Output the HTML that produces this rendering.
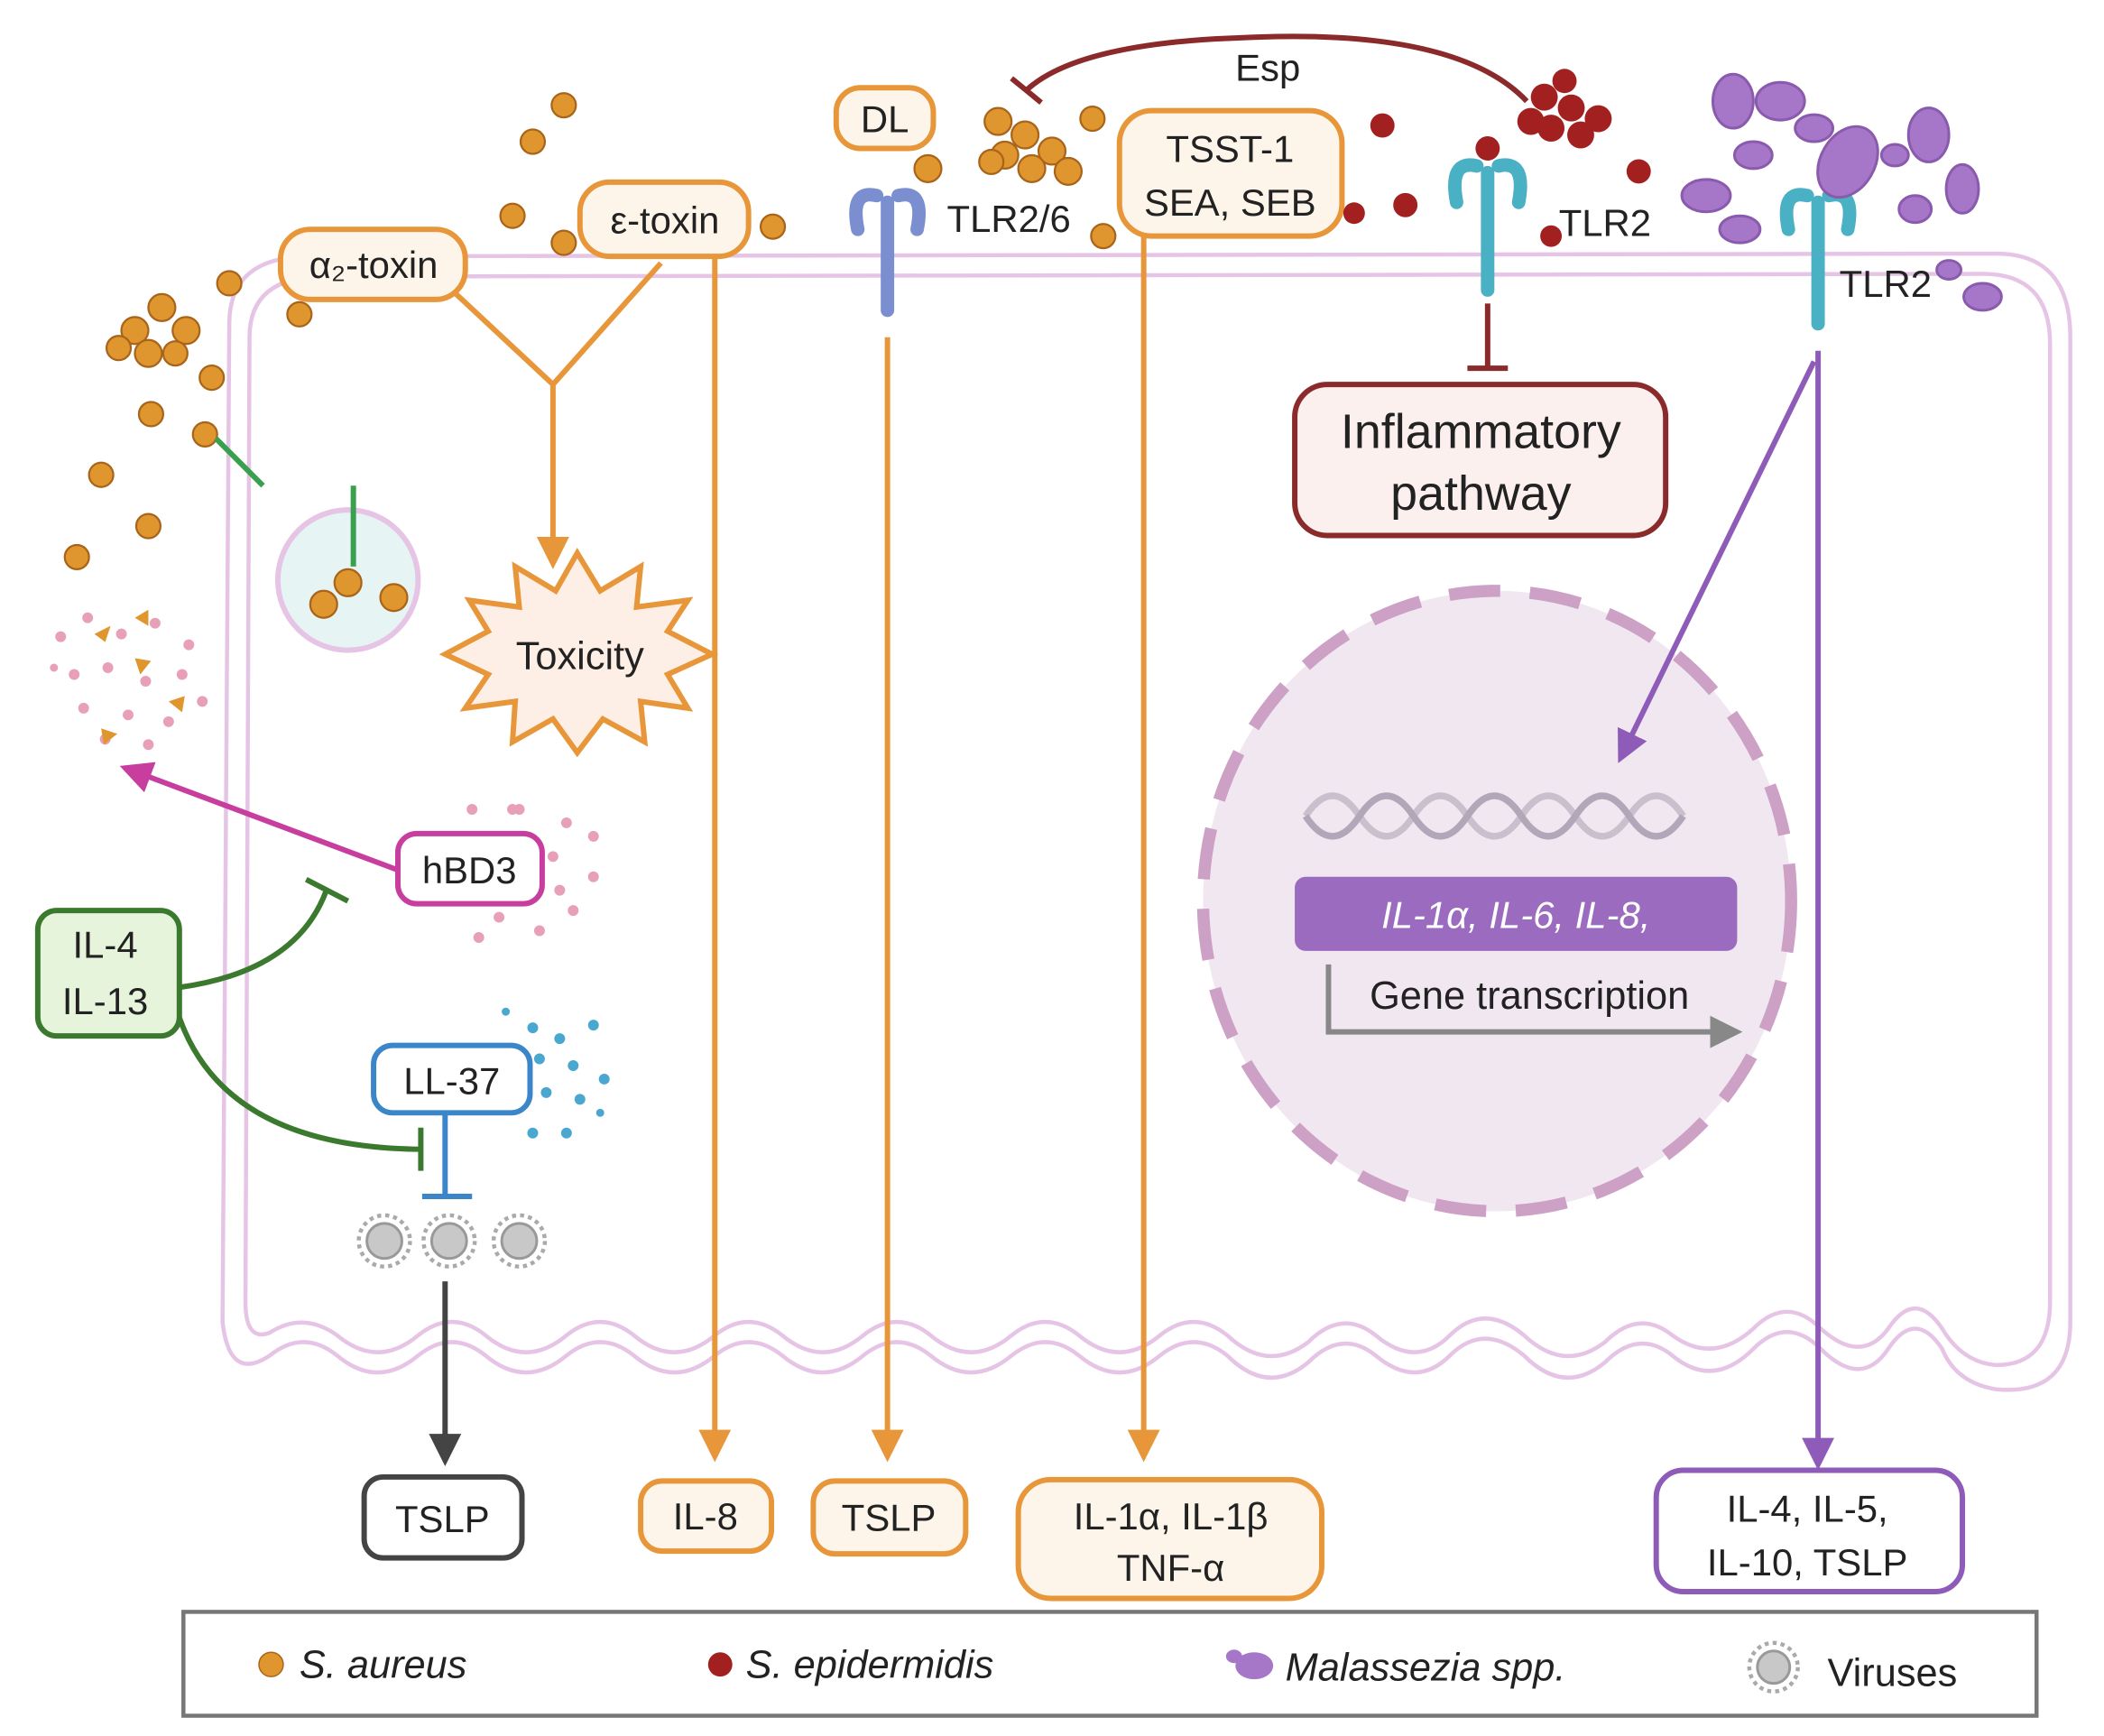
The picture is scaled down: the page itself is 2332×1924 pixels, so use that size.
<!DOCTYPE html>
<html><head><meta charset="utf-8"><style>
html,body{margin:0;padding:0;background:#fff}
svg{display:block}
text{font-family:"Liberation Sans",sans-serif}
</style></head><body>
<svg width="2332" height="1924" viewBox="0 0 1560 1287" xmlns="http://www.w3.org/2000/svg">
<defs>
<marker id="ao" markerWidth="6" markerHeight="6" refX="3" refY="3" orient="auto" markerUnits="strokeWidth"><path d="M0,0 L6,3 L0,6 z" fill="#e8963a"/></marker>
<marker id="ap" markerWidth="6" markerHeight="6" refX="3" refY="3" orient="auto" markerUnits="strokeWidth"><path d="M0,0 L6,3 L0,6 z" fill="#8e5cb8"/></marker>
<marker id="am" markerWidth="6" markerHeight="6" refX="3" refY="3" orient="auto" markerUnits="strokeWidth"><path d="M0,0 L6,3 L0,6 z" fill="#c83e9e"/></marker>
<marker id="ak" markerWidth="6" markerHeight="6" refX="3" refY="3" orient="auto" markerUnits="strokeWidth"><path d="M0,0 L6,3 L0,6 z" fill="#444"/></marker>
<marker id="ag" markerWidth="6" markerHeight="6" refX="3" refY="3" orient="auto" markerUnits="strokeWidth"><path d="M0,0 L6,3 L0,6 z" fill="#888"/></marker>
</defs>
<rect width="1560" height="1287" fill="#fff"/>
<!-- membrane -->
<g fill="none" stroke="#e6c4e6" stroke-width="3">
<path d="M170,240 Q170,190 230,190 L1480,188 Q1535,188 1535,250 L1535,980 Q1535,1035 1480,1030 Q1450,1025 1440,1000 Q1420,970 1400,1000 Q1380,1030 1350,1000 Q1325,975 1300,1000 Q1270,1030 1240,1005 Q1215,985 1190,1010 Q1160,1035 1130,1005 Q1100,980 1075,1005 Q1050,1030 1020,1005 Q995,985 970,1010 Q940,1035 910,1005 Q885,985 860,1005 Q830,1030 800,1005 Q775,985 750,1005 Q720,1030 690,1005 Q665,985 640,1005 Q610,1030 580,1005 Q555,985 530,1005 Q500,1030 470,1005 Q445,985 420,1005 Q390,1030 360,1005 Q335,985 310,1005 Q280,1030 250,1005 Q225,985 200,1005 Q170,1025 165,980 Z"/>
<path d="M185,250 Q185,205 240,205 L1470,203 Q1520,203 1520,255 L1520,965 Q1520,1012 1480,1012 Q1455,1010 1440,985 Q1420,955 1400,985 Q1380,1012 1350,985 Q1325,960 1300,985 Q1270,1012 1240,990 Q1215,970 1190,995 Q1160,1018 1130,990 Q1100,965 1075,990 Q1050,1015 1020,990 Q995,970 970,995 Q940,1018 910,990 Q885,970 860,990 Q830,1015 800,990 Q775,970 750,990 Q720,1015 690,990 Q665,970 640,990 Q610,1015 580,990 Q555,970 530,990 Q500,1015 470,990 Q445,970 420,990 Q390,1015 360,990 Q335,970 310,990 Q280,1015 250,990 Q225,972 200,988 Q182,995 182,965 Z"/>
</g>
<!-- nucleus -->
<ellipse cx="1110" cy="668" rx="218" ry="230" fill="#f1e7f0" stroke="#cda0c6" stroke-width="9" stroke-dasharray="38,22"/>
<!-- DNA -->
<g fill="none" stroke-width="5">
<path d="M968,605 q20,-30 40,0 t40,0 t40,0 t40,0 t40,0 t40,0 t40,0" stroke="#c8c0cc"/>
<path d="M968,605 q20,30 40,0 t40,0 t40,0 t40,0 t40,0 t40,0 t40,0" stroke="#b0a8b8"/>
</g>
<rect x="960" y="650" width="328" height="55" rx="8" fill="#9b6bc0"/>
<text x="1124" y="688" text-anchor="middle" font-size="28" font-style="italic" fill="#fff">IL-1α, IL-6, IL-8,</text>
<path d="M985,715 L985,765 L1280,765" fill="none" stroke="#888" stroke-width="4" marker-end="url(#ag)"/>
<text x="1134" y="748" text-anchor="middle" font-size="29" fill="#222">Gene transcription</text>
<!-- inflammatory -->
<rect x="960" y="285" width="275" height="112" rx="24" fill="#fcf0ee" stroke="#8b2a2a" stroke-width="4"/>
<text x="1098" y="332" text-anchor="middle" font-size="36" fill="#222">Inflammatory</text>
<text x="1098" y="378" text-anchor="middle" font-size="36" fill="#222">pathway</text>
<path d="M1103,225 L1103,273 M1088,273 L1118,273" stroke="#8b2a2a" stroke-width="4"/>
<!-- Esp -->
<path d="M1132,75 Q1080,20 920,28 Q800,32 762,66" fill="none" stroke="#8b2a2a" stroke-width="4"/>
<path d="M750,58 L772,76" stroke="#8b2a2a" stroke-width="4"/>
<text x="940" y="60" text-anchor="middle" font-size="28" fill="#222">Esp</text>
<!-- orange paths -->
<g fill="none" stroke="#e8963a" stroke-width="4">
<path d="M335,215 L410,285 L490,195 M410,285 L410,410" marker-end="url(#ao)"/>
<path d="M530,190 L530,1072" marker-end="url(#ao)"/>
<path d="M658,250 L658,1072" marker-end="url(#ao)"/>
<path d="M848,175 L848,1072" marker-end="url(#ao)"/>
</g>
<!-- toxicity star -->
<polygon fill="#fdeee6" stroke="#e8963a" stroke-width="4" points="428,410 445,438 475,420 472,450 510,445 495,468 528,485 495,500 510,525 475,520 478,550 447,533 428,558 410,533 380,550 382,520 345,525 362,500 330,485 362,468 348,445 385,450 382,420 412,438"/>
<text x="430" y="496" text-anchor="middle" font-size="29" fill="#222">Toxicity</text>
<!-- orange boxes -->
<g fill="#fdf5ea" stroke="#e8963a" stroke-width="4">
<rect x="208" y="170" width="137" height="52" rx="22"/>
<rect x="430" y="135" width="125" height="55" rx="22"/>
<rect x="620" y="65" width="72" height="45" rx="18"/>
<rect x="830" y="82" width="165" height="93" rx="24"/>
<rect x="475" y="1098" width="97" height="52" rx="16"/>
<rect x="603" y="1098" width="113" height="54" rx="16"/>
<rect x="755" y="1097" width="225" height="88" rx="24"/>
</g>
<g font-size="28" fill="#222" text-anchor="middle">
<text x="277" y="206">α₂-toxin</text>
<text x="493" y="173">ε-toxin</text>
<text x="656" y="98">DL</text>
<text x="912" y="120">TSST-1</text>
<text x="912" y="160">SEA, SEB</text>
<text x="523" y="1134">IL-8</text>
<text x="659" y="1135">TSLP</text>
<text x="868" y="1134">IL-1α, IL-1β</text>
<text x="868" y="1172">TNF-α</text>
<text x="748" y="172">TLR2/6</text>
<text x="1190" y="175">TLR2</text>
<text x="1398" y="220">TLR2</text>
</g>
<!-- receptors -->
<g fill="none" stroke-width="10" stroke-linecap="round">
<path d="M636,170 Q630,140 650,145 M680,170 Q686,140 666,145 M658,150 L658,230" stroke="#7b8fd0"/>
<path d="M1080,150 Q1074,118 1095,123 M1126,150 Q1132,118 1111,123 M1103,128 L1103,215" stroke="#4ab0c4"/>
<path d="M1326,170 Q1320,140 1340,145 M1370,170 Q1376,140 1356,145 M1348,150 L1348,240" stroke="#4ab0c4"/>
</g>
<!-- purple arrows -->
<g fill="none" stroke="#8e5cb8" stroke-width="4">
<path d="M1348,260 L1348,1078" marker-end="url(#ap)"/>
<path d="M1345,268 L1205,555" marker-end="url(#ap)"/>
</g>
<rect x="1228" y="1090" width="227" height="90" rx="20" fill="#fff" stroke="#8e5cb8" stroke-width="4"/>
<text x="1340" y="1128" text-anchor="middle" font-size="28" fill="#222">IL-4, IL-5,</text>
<text x="1340" y="1168" text-anchor="middle" font-size="28" fill="#222">IL-10, TSLP</text>
<!-- Malassezia -->
<g fill="#a677c8" stroke="#8a5aac" stroke-width="2">
<ellipse cx="1285" cy="75" rx="15" ry="20"/><ellipse cx="1320" cy="75" rx="18" ry="14"/><ellipse cx="1345" cy="95" rx="14" ry="10"/>
<ellipse cx="1370" cy="120" rx="20" ry="28" transform="rotate(30 1370 120)"/><ellipse cx="1300" cy="115" rx="14" ry="10"/>
<ellipse cx="1265" cy="145" rx="18" ry="12"/><ellipse cx="1290" cy="170" rx="15" ry="10"/><ellipse cx="1430" cy="100" rx="15" ry="20"/>
<ellipse cx="1455" cy="140" rx="12" ry="18"/><ellipse cx="1420" cy="155" rx="12" ry="10"/><ellipse cx="1470" cy="220" rx="14" ry="10"/>
<ellipse cx="1405" cy="115" rx="10" ry="8"/><ellipse cx="1445" cy="200" rx="9" ry="7"/>
</g>
<!-- S. epidermidis -->
<g fill="#a32020">
<circle cx="1025" cy="93" r="9"/><circle cx="1215" cy="127" r="9"/><circle cx="1004" cy="158" r="8"/><circle cx="1042" cy="152" r="9"/><circle cx="1150" cy="175" r="8"/><circle cx="1103" cy="110" r="9"/>
<circle cx="1145" cy="72" r="10"/><circle cx="1165" cy="80" r="10"/><circle cx="1185" cy="88" r="10"/><circle cx="1150" cy="95" r="10"/><circle cx="1172" cy="100" r="10"/><circle cx="1135" cy="90" r="10"/><circle cx="1160" cy="60" r="9"/>
</g>
<!-- S. aureus -->
<g fill="#e0962e" stroke="#a8641a" stroke-width="1.5">
<circle cx="418" cy="78" r="9"/><circle cx="395" cy="105" r="9"/><circle cx="380" cy="160" r="9"/><circle cx="418" cy="180" r="9"/><circle cx="573" cy="168" r="9"/>
<circle cx="222" cy="233" r="9"/><circle cx="170" cy="210" r="9"/><circle cx="157" cy="280" r="9"/><circle cx="112" cy="307" r="9"/><circle cx="75" cy="352" r="9"/><circle cx="110" cy="390" r="9"/><circle cx="57" cy="413" r="9"/>
<circle cx="688" cy="125" r="10"/><circle cx="810" cy="88" r="9"/><circle cx="818" cy="175" r="9"/>
<circle cx="740" cy="90" r="10"/><circle cx="760" cy="100" r="10"/><circle cx="780" cy="112" r="10"/><circle cx="745" cy="115" r="10"/><circle cx="765" cy="125" r="10"/><circle cx="792" cy="127" r="10"/><circle cx="735" cy="120" r="9"/>
<circle cx="100" cy="245" r="10"/><circle cx="120" cy="228" r="10"/><circle cx="138" cy="245" r="10"/><circle cx="110" cy="262" r="10"/><circle cx="88" cy="258" r="9"/><circle cx="130" cy="262" r="9"/>
<circle cx="152" cy="322" r="9"/>
</g>
<circle cx="258" cy="430" r="52" fill="#e6f5f3" stroke="#e6c4e6" stroke-width="4"/>
<path d="M262,360 L262,420 M160,325 L195,360" stroke="#3aa050" stroke-width="4"/>
<g fill="#e0962e" stroke="#a8641a" stroke-width="1.5"><circle cx="240" cy="448" r="10"/><circle cx="258" cy="432" r="10"/><circle cx="292" cy="443" r="10"/></g>
<!-- debris dots -->
<g fill="#e8a0b8">
<circle cx="45" cy="472" r="4"/><circle cx="65" cy="458" r="4"/><circle cx="90" cy="470" r="4"/><circle cx="115" cy="462" r="4"/><circle cx="140" cy="478" r="4"/><circle cx="55" cy="500" r="4"/><circle cx="80" cy="495" r="4"/><circle cx="108" cy="505" r="4"/><circle cx="135" cy="500" r="4"/><circle cx="150" cy="520" r="4"/><circle cx="62" cy="525" r="4"/><circle cx="95" cy="530" r="4"/><circle cx="125" cy="535" r="4"/><circle cx="78" cy="548" r="4"/><circle cx="110" cy="552" r="4"/><circle cx="40" cy="495" r="3"/>
<circle cx="380" cy="600" r="4"/><circle cx="420" cy="610" r="4"/><circle cx="410" cy="635" r="4"/><circle cx="440" cy="650" r="4"/><circle cx="425" cy="675" r="4"/><circle cx="400" cy="690" r="4"/><circle cx="370" cy="680" r="4"/><circle cx="355" cy="695" r="4"/><circle cx="385" cy="600" r="4"/><circle cx="350" cy="600" r="4"/><circle cx="440" cy="620" r="4"/><circle cx="415" cy="660" r="4"/>
</g>
<g fill="#e0962e"><path d="M70,470 l12,-6 l-4,12z"/><path d="M100,488 l12,2 l-8,10z"/><path d="M125,520 l12,-4 l-2,12z"/><path d="M75,540 l12,4 l-10,8z"/><path d="M100,458 l10,-6 l0,12z"/></g>
<g fill="#4aa8d0"><circle cx="395" cy="762" r="4"/><circle cx="415" cy="770" r="4"/><circle cx="440" cy="760" r="4"/><circle cx="400" cy="785" r="4"/><circle cx="425" cy="790" r="4"/><circle cx="448" cy="800" r="4"/><circle cx="405" cy="810" r="4"/><circle cx="430" cy="815" r="4"/><circle cx="395" cy="840" r="4"/><circle cx="420" cy="840" r="4"/><circle cx="375" cy="750" r="3"/><circle cx="445" cy="825" r="3"/></g>
<!-- hBD3 -->
<path d="M295,645 L100,572" fill="none" stroke="#c83e9e" stroke-width="4" marker-end="url(#am)"/>
<rect x="295" y="618" width="107" height="52" rx="14" fill="#fff" stroke="#c83e9e" stroke-width="4"/>
<text x="348" y="655" text-anchor="middle" font-size="28" fill="#222">hBD3</text>
<!-- green -->
<g fill="none" stroke="#3b7a2e" stroke-width="4">
<path d="M133,732 Q220,720 242,660 M227,652 L258,668"/>
<path d="M130,745 Q160,850 310,852 M312,836 L312,868"/>
</g>
<rect x="28" y="675" width="105" height="93" rx="14" fill="#e6f4dc" stroke="#3b7a2e" stroke-width="4"/>
<text x="78" y="710" text-anchor="middle" font-size="28" fill="#222">IL-4</text>
<text x="78" y="752" text-anchor="middle" font-size="28" fill="#222">IL-13</text>
<!-- LL-37 -->
<path d="M330,825 L330,887 M313,887 L350,887" stroke="#3a86c8" stroke-width="4" fill="none"/>
<rect x="277" y="775" width="116" height="50" rx="14" fill="#fff" stroke="#3a86c8" stroke-width="4"/>
<text x="335" y="811" text-anchor="middle" font-size="28" fill="#222">LL-37</text>
<!-- viruses -->
<g fill="#c8c8c8" stroke="#999" stroke-width="2">
<circle cx="285" cy="920" r="13"/><circle cx="333" cy="920" r="13"/><circle cx="385" cy="920" r="13"/>
</g>
<g stroke="#aaa" stroke-width="3" stroke-dasharray="3,3" fill="none"><circle cx="285" cy="920" r="19"/><circle cx="333" cy="920" r="19"/><circle cx="385" cy="920" r="19"/></g>
<path d="M330,950 L330,1075" stroke="#444" stroke-width="4" marker-end="url(#ak)"/>
<rect x="270" y="1095" width="117" height="60" rx="14" fill="#fff" stroke="#444" stroke-width="4"/>
<text x="328" y="1136" text-anchor="middle" font-size="28" fill="#222">TSLP</text>
<!-- legend -->
<rect x="136" y="1195" width="1374" height="77" fill="#fff" stroke="#777" stroke-width="3"/>
<circle cx="201" cy="1234" r="9" fill="#e0962e" stroke="#a8641a"/>
<text x="222" y="1244" font-size="29" font-style="italic" fill="#222">S. aureus</text>
<circle cx="534" cy="1234" r="9" fill="#a32020"/>
<text x="553" y="1244" font-size="29" font-style="italic" fill="#222">S. epidermidis</text>
<ellipse cx="930" cy="1235" rx="14" ry="10" fill="#a677c8"/><ellipse cx="915" cy="1228" rx="6" ry="5" fill="#a677c8"/>
<text x="953" y="1246" font-size="29" font-style="italic" fill="#222">Malassezia spp.</text>
<circle cx="1315" cy="1236" r="12" fill="#c8c8c8" stroke="#999" stroke-width="2"/>
<circle cx="1315" cy="1236" r="18" fill="none" stroke="#aaa" stroke-width="3" stroke-dasharray="3,3"/>
<text x="1355" y="1250" font-size="29" fill="#222">Viruses</text>
</svg>
</body></html>
